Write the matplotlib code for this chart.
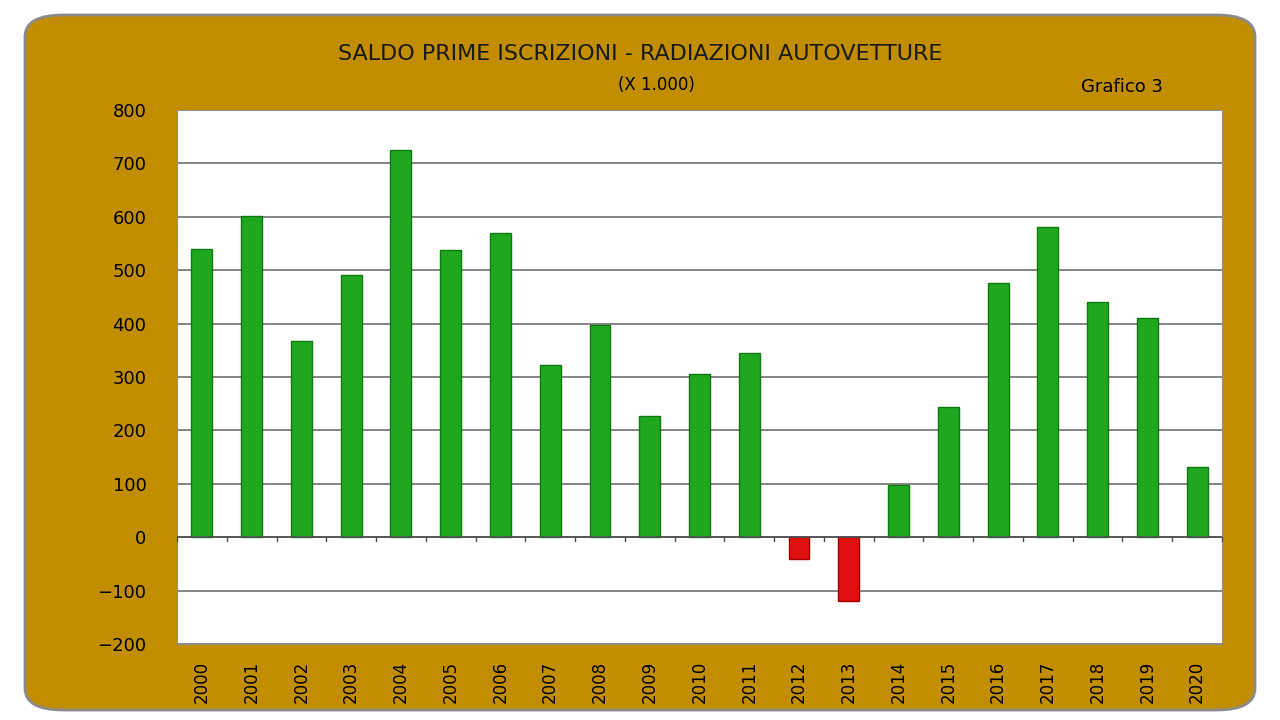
import matplotlib.pyplot as plt
from matplotlib.patches import FancyBboxPatch
import numpy as np

years = [str(y) for y in range(2000, 2021)]
values = [539, 601, 367, 491, 725, 537, 569, 322, 397, 227, 305, 345,
          -41, -120, 97, 243, 476, 580, 440, 410, 131]

fig = plt.figure(figsize=(12.8, 7.2), dpi=100)
fig.patch.set_facecolor('white')

ax = fig.add_axes([177/1280, 1-644/720, (1222-177)/1280, (644-110)/720])
ax.set_zorder(2)

# gold rounded frame (behind axes)
frame = FancyBboxPatch((25/1280, 10/720), 1230/1280, 695/720,
                       boxstyle="round,pad=0,rounding_size=0.03",
                       transform=fig.transFigure, fc='#C28E00', ec='#8A8A8A', lw=2,
                       zorder=0)
fig.patches.append(frame)

ax.set_facecolor('white')
x = np.arange(len(years))
cols = ['#1FA81F' if v >= 0 else '#E01010' for v in values]
edges = ['#0E7A0E' if v >= 0 else '#A00000' for v in values]
ax.bar(x, values, width=0.42, color=cols, edgecolor=edges, lw=1, zorder=3)

ax.set_ylim(-200, 800)
ax.set_xlim(-0.5, len(years) - 0.5)
ax.set_yticks(range(-200, 801, 100))
ax.tick_params(axis='y', labelsize=13, length=0, pad=22)
ax.set_xticks(x)
ax.set_xticklabels(years, rotation=90, fontsize=12)
ax.tick_params(axis='x', length=0, pad=12)
ax.grid(axis='y', color='#707070', lw=1.2, zorder=0)
ax.axhline(0, color='#505050', lw=1.2, zorder=4)
for xi in np.arange(-0.5, len(years)):
    ax.plot([xi, xi], [0, -8], color='#505050', lw=1, zorder=4, clip_on=False)
for s in ax.spines.values():
    s.set_color('#909090')

fig.text(0.5, 1-54/720, 'SALDO PRIME ISCRIZIONI - RADIAZIONI AUTOVETTURE',
         ha='center', va='center', fontsize=16, color='#1a1a1a')
fig.text(0.513, 1-85/720, '(X 1.000)', ha='center', va='center', fontsize=12)
fig.text(1122/1280, 1-87/720, 'Grafico 3', ha='center', va='center', fontsize=13)

fig.savefig('out.png', dpi=100, facecolor=fig.get_facecolor())
